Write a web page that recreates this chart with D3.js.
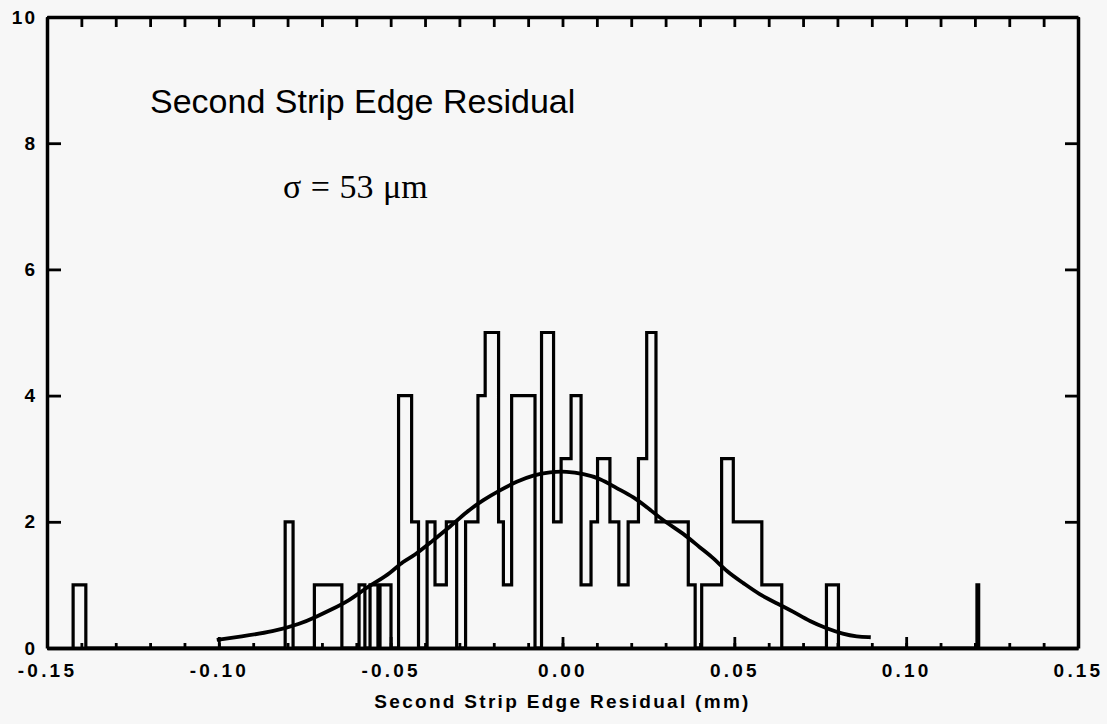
<!DOCTYPE html>
<html>
<head>
<meta charset="utf-8">
<script src="https://cdn.jsdelivr.net/npm/d3@7"></script>
<style>
    body { margin: 0; background: #f7f7f7; }
    text { font-family: "Liberation Sans", Arial, sans-serif; fill: #000; }
</style>
</head>
<body>
<div id="chart-area"></div>
<script>
// Histogram: bin edges (mm) and the count in each bin
var binEdges = [-0.1424, -0.1387, -0.0807, -0.0784, -0.0722, -0.0642, -0.0592, -0.0575, -0.0560,
    -0.0537, -0.0531, -0.0499, -0.0477, -0.0439, -0.0419, -0.0394, -0.0371, -0.0338, -0.0308,
    -0.0282, -0.0246, -0.0225, -0.0186, -0.0172, -0.0148, -0.0080, -0.0061, -0.0026, -0.0004,
    0.0025, 0.0054, 0.0083, 0.0102, 0.0138, 0.0164, 0.0191, 0.0221, 0.0245, 0.0272, 0.0366,
    0.0386, 0.0405, 0.0463, 0.0497, 0.0580, 0.0638, 0.0768, 0.0803, 0.1206, 0.1211];
var binCounts = [1, 0, 2, 0, 1, 0, 1, 0, 1, 0, 1, 0, 4, 2, 0, 2, 1, 2, 0, 2, 4, 5, 2, 1, 4, 0,
    5, 2, 3, 4, 1, 2, 3, 2, 1, 2, 3, 5, 2, 1, 0, 1, 3, 2, 1, 0, 1, 0, 1];

// Fitted curve, points
var fitX = [-0.1006, -0.0938, -0.0841, -0.0764, -0.0715, -0.0676, -0.0618, -0.0580, -0.0541,
    -0.0502, -0.0463, -0.0434, -0.0376, -0.0327, -0.0279, -0.0230, -0.0182, -0.0133, -0.0085,
    -0.0036, 0.0012, 0.0061, 0.0109, 0.0158, 0.0206, 0.0255, 0.0303, 0.0351, 0.0400, 0.0439,
    0.0478, 0.0526, 0.0575, 0.0623, 0.0672, 0.0720, 0.0769, 0.0817, 0.0856, 0.0897];
var fitY = [0.13, 0.18, 0.26, 0.38, 0.50, 0.60, 0.76, 0.92, 1.05, 1.18, 1.38, 1.45, 1.71, 1.92,
    2.16, 2.35, 2.50, 2.64, 2.74, 2.79, 2.80, 2.76, 2.69, 2.53, 2.40, 2.19, 1.98, 1.82, 1.59,
    1.43, 1.21, 1.03, 0.84, 0.71, 0.575, 0.42, 0.31, 0.22, 0.18, 0.17];

var xTickLabels = [-0.15, -0.10, -0.05, 0.00, 0.05, 0.10, 0.15];
var yTickLabels = [0, 2, 4, 6, 8, 10];

//Margin
var margin = { top: 17, right: 29, bottom: 76, left: 47 };
var width = 1031;
var height = 631;

var g = d3.select("#chart-area")
    .append("svg")
    .attr("width", width + margin.left + margin.right)
    .attr("height", height + margin.top + margin.bottom)
    .append("g")
    .attr("transform", "translate(" + margin.left + ", " + margin.top + ")");

// SCALES
var x = d3.scaleLinear().domain([-0.15, 0.15]).range([0, width]);
var y = d3.scaleLinear().domain([0, 10]).range([height, 0]);

var minorTicks = d3.range(-15, 16).map((i) => i / 100);

//---AXES
// bottom minor ticks (every 0.01)
g.append("g")
    .attr("class", "axis")
    .attr("transform", "translate(0, " + height + ")")
    .call(d3.axisBottom(x).tickValues(minorTicks).tickSize(-5).tickSizeOuter(0).tickFormat(""));

// bottom major ticks with labels
var bottom = g.append("g")
    .attr("class", "axis")
    .attr("transform", "translate(0, " + height + ")")
    .call(d3.axisBottom(x).tickValues(xTickLabels).tickSize(-11).tickSizeOuter(0)
        .tickFormat((d) => d.toFixed(2)));
bottom.selectAll("text")
    .attr("y", 16)
    .attr("dy", "0.71em")
    .attr("font-size", "19px")
    .attr("font-weight", "bold")
    .attr("letter-spacing", "3.2px");

// top ticks
g.append("g")
    .attr("class", "axis")
    .call(d3.axisTop(x).tickValues(minorTicks).tickSize(-10).tickSizeOuter(0).tickFormat(""));

// left axis
var left = g.append("g")
    .attr("class", "axis")
    .call(d3.axisLeft(y).tickValues(yTickLabels).tickSize(-14).tickSizeOuter(0));
left.selectAll("text")
    .attr("x", -10)
    .attr("font-size", "19px")
    .attr("font-weight", "bold")
    .attr("letter-spacing", "2px");

// right axis
g.append("g")
    .attr("class", "axis")
    .attr("transform", "translate(" + width + ", 0)")
    .call(d3.axisRight(y).tickValues(yTickLabels.slice(1, -1)).tickSize(-13).tickSizeOuter(0).tickFormat(""));

g.selectAll(".axis .domain").attr("stroke", "#000").attr("stroke-width", 3.5);
g.selectAll(".axis .tick line").attr("stroke", "#000").attr("stroke-width", 2.8);

//---HISTOGRAM (step outline)
var steps = [{ x: binEdges[0], y: 0 }];
binCounts.forEach((c, i) => steps.push({ x: binEdges[i], y: c }));
steps.push({ x: binEdges[binEdges.length - 1], y: 0 });

var stepLine = d3.line()
    .x((d) => x(d.x))
    .y((d) => y(d.y))
    .curve(d3.curveStepAfter);

g.append("path")
    .datum(steps)
    .attr("d", stepLine)
    .attr("fill", "none")
    .attr("stroke", "#000")
    .attr("stroke-width", 3.2);

//---FIT CURVE
var fitLine = d3.line()
    .x((d, i) => x(fitX[i]))
    .y((d) => y(d))
    .curve(d3.curveBasis);

g.append("path")
    .datum(fitY)
    .attr("d", fitLine)
    .attr("fill", "none")
    .attr("stroke", "#000")
    .attr("stroke-width", 3.8);

//---LABELS
g.append("text")
    .attr("x", width / 2)
    .attr("y", height + 60)
    .attr("text-anchor", "middle")
    .attr("font-size", "19px")
    .attr("font-weight", "bold")
    .attr("letter-spacing", "2.3px")
    .text("Second Strip Edge Residual (mm)");

g.append("text")
    .attr("x", 103)
    .attr("y", 96)
    .attr("font-size", "34px")
    .text("Second Strip Edge Residual");

g.append("text")
    .attr("x", 236)
    .attr("y", 181)
    .attr("font-size", "34px")
    .style("font-family", "'Liberation Serif', 'Times New Roman', serif")
    .attr("word-spacing", "1px")
    .text("σ = 53 μm");
</script>
</body>
</html>
